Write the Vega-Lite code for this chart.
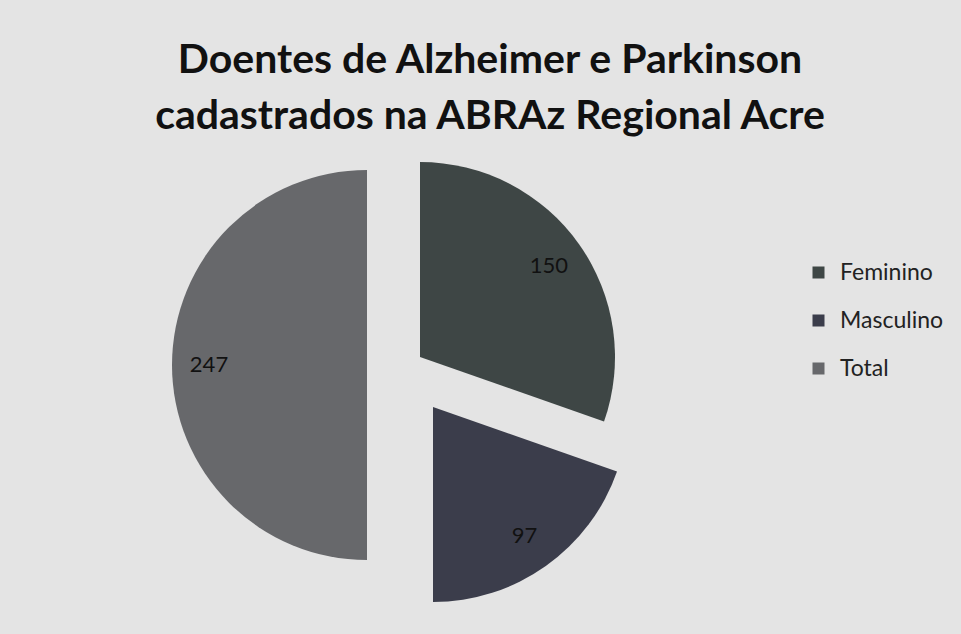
{
  "$schema": "https://vega.github.io/schema/vega-lite/v6.json",
  "autosize": {"type": "none"},
  "padding": {"left": 188, "top": 145, "right": 333, "bottom": 49},
  "width": 440,
  "height": 440,
  "background": "#e4e4e4",
  "title": {
    "text": ["Doentes de Alzheimer e Parkinson", "cadastrados na ABRAz Regional Acre"],
    "font": "Lato",
    "fontSize": 41,
    "fontWeight": "bold",
    "color": "#111111",
    "lineHeight": 56,
    "anchor": "middle",
    "frame": "group",
    "dx": 82,
    "offset": 7
  },
  "data": {
    "values": [
      {"categoria": "Feminino", "valor": 150},
      {"categoria": "Masculino", "valor": 97},
      {"categoria": "Total", "valor": 247}
    ]
  },
  "encoding": {
    "theta": {"field": "valor", "type": "quantitative", "stack": true},
    "order": {"field": "categoria", "type": "nominal", "sort": "ascending"}
  },
  "layer": [
    {
      "mark": {"type": "arc", "outerRadius": 195, "xOffset": 12, "yOffset": -8},
      "encoding": {
        "color": {
          "field": "categoria", "type": "nominal",
          "scale": {"domain": ["Feminino", "Masculino", "Total"], "range": ["#3e4645", "#3b3d4b", "#67686b"]},
          "legend": {
            "title": null, "orient": "none", "legendX": 619, "legendY": 116,
            "symbolType": "square", "symbolSize": 144, "symbolOpacity": 1,
            "labelFont": "Lato", "labelFontSize": 23, "labelColor": "#222222",
            "rowPadding": 24, "labelOffset": 10, "padding": 0
          }
        },
        "opacity": {"condition": {"test": "datum.categoria === 'Feminino'", "value": 1}, "value": 0}
      }
    },
    {
      "mark": {"type": "arc", "outerRadius": 195, "xOffset": 25, "yOffset": 42},
      "encoding": {
        "color": {"field": "categoria", "type": "nominal"},
        "opacity": {"condition": {"test": "datum.categoria === 'Masculino'", "value": 1}, "value": 0}
      }
    },
    {
      "mark": {"type": "arc", "outerRadius": 195, "xOffset": -41, "yOffset": 0},
      "encoding": {
        "color": {"field": "categoria", "type": "nominal"},
        "opacity": {"condition": {"test": "datum.categoria === 'Total'", "value": 1}, "value": 0}
      }
    },
    {
      "mark": {"type": "text", "radius": 158, "xOffset": 12, "yOffset": -8, "font": "Lato", "fontSize": 22, "color": "#111111"},
      "encoding": {
        "detail": {"field": "categoria", "type": "nominal"},
        "text": {"field": "valor", "type": "quantitative"},
        "opacity": {"condition": {"test": "datum.categoria === 'Feminino'", "value": 1}, "value": 0}
      }
    },
    {
      "mark": {"type": "text", "radius": 158, "xOffset": 25, "yOffset": 42, "font": "Lato", "fontSize": 22, "color": "#111111"},
      "encoding": {
        "detail": {"field": "categoria", "type": "nominal"},
        "text": {"field": "valor", "type": "quantitative"},
        "opacity": {"condition": {"test": "datum.categoria === 'Masculino'", "value": 1}, "value": 0}
      }
    },
    {
      "mark": {"type": "text", "radius": 158, "xOffset": -41, "yOffset": 0, "font": "Lato", "fontSize": 22, "color": "#111111"},
      "encoding": {
        "detail": {"field": "categoria", "type": "nominal"},
        "text": {"field": "valor", "type": "quantitative"},
        "opacity": {"condition": {"test": "datum.categoria === 'Total'", "value": 1}, "value": 0}
      }
    }
  ]
}
